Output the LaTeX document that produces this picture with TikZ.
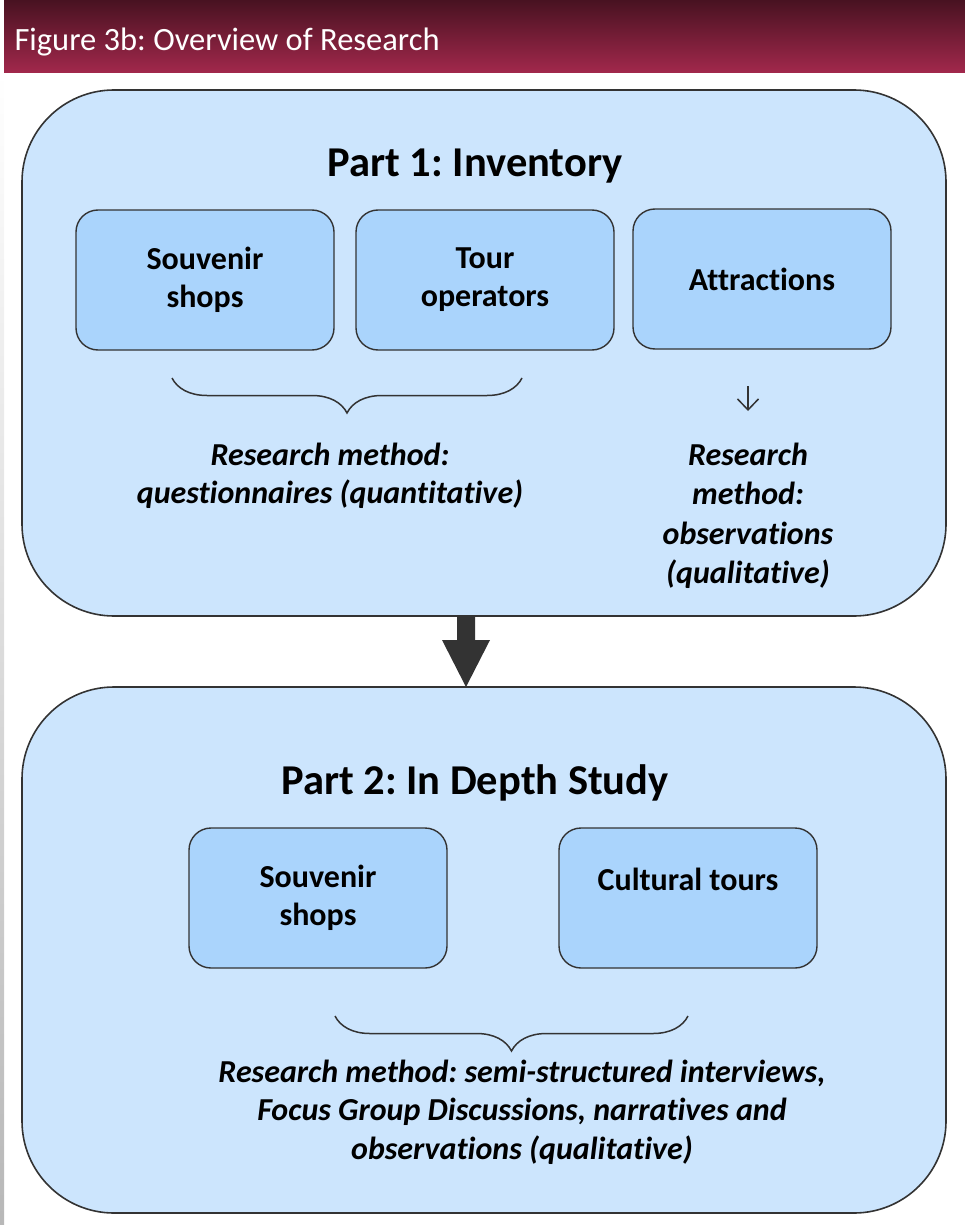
\documentclass[tikz,border=0pt]{standalone}
\usepackage{fontspec}
\setmainfont{Carlito}[Ligatures={NoCommon}]
\usetikzlibrary{positioning,calc,arrows.meta,decorations.pathreplacing}
\definecolor{outerblue}{RGB}{204,229,253}
\definecolor{innerblue}{RGB}{170,212,252}
\definecolor{edgegrey}{RGB}{51,51,51}
\definecolor{bandtop}{RGB}{72,18,33}
\definecolor{bandbottom}{RGB}{162,40,76}
\frenchspacing
\begin{document}
\begin{tikzpicture}[x=1pt,y=-1pt,
	part/.style={draw=edgegrey, line width=1.6pt, fill=outerblue, rounded corners=92pt, minimum width=924pt, minimum height=526pt, inner sep=0pt},
	item/.style={draw=edgegrey, line width=1.4pt, fill=innerblue, rounded corners=22pt, minimum width=258pt, minimum height=140pt, align=center, font=\fontsize{32}{38}\selectfont\bfseries},
	method/.style={align=center, font=\fontsize{32}{38.5}\selectfont\bfseries\itshape},
	heading/.style={font=\fontsize{42.5}{46}\selectfont\bfseries},
	bracket/.style={decorate, decoration={brace, mirror, amplitude=35pt}, draw=edgegrey, line width=1.5pt}]
%	\draw[step=50] (0,0) grid (965,1225);
	\useasboundingbox (0,0) rectangle (965,1225);
	
	\shade[top color=white, bottom color=black!28] (0,73) rectangle (4,1225);
	\shade[top color=bandtop, bottom color=bandbottom] (4,0) rectangle (965,73);
	\node[anchor=west, text=white, font=\fontsize{32.5}{36}\selectfont] (title) at (11,42) {Figure 3b: Overview of Research};
	
	% part 1
	\node[part] (part1) at (484,353) {};
	\node[heading] (head1) at (475,166) {Part 1: Inventory};
	\node[item] (shops1) at (205,280) {Souvenir\\shops};
	\node[item] (tours1) at (485,280) {Tour\\operators};
	\node[item] (attr) at (762,279) {Attractions};
	
	\coordinate (b1l) at (172,378);
	\coordinate (b1r) at (522,378);
	\draw[bracket] (b1l) -- (b1r);
	\node[method] (meth1) at (330,476) {Research method:\\questionnaires (quantitative)};
	
	\coordinate (obstop) at (748,386);
	\coordinate (obstip) at (748,411);
	\draw[edgegrey, line width=1.5pt, -{Straight Barb[length=11pt,width=21pt]}] (obstop) -- (obstip);
	\node[method, font=\fontsize{32}{39.5}\selectfont\bfseries\itshape] (meth2) at (748,516) {Research\\method:\\observations\\(qualitative)};
	
	% part 2
	\node[part] (part2) at (484,950) {};
	\coordinate (bigtop) at (466,616);
	\coordinate (bigtip) at (466,687);
	\fill[edgegrey] ($(bigtop)+(-9,0)$) -- ++(18,0) -- ++(0,24) -- ++(15,0) -- (bigtip) -- ++(-24,-47) -- ++(15,0) -- cycle;
	
	\node[heading] (head2) at (475,783) {Part 2: In Depth Study};
	\node[item] (shops2) at (318,898) {Souvenir\\shops};
	\node[item] (tours2) at (688,898) {Cultural tours\\~};
	
	\coordinate (b2l) at (335,1016);
	\coordinate (b2r) at (688,1016);
	\draw[bracket] (b2l) -- (b2r);
	\node[method] (meth3) at (522,1112) {Research method: semi-structured interviews,\\Focus Group Discussions, narratives and\\observations (qualitative)};
	
\end{tikzpicture}
\end{document}
